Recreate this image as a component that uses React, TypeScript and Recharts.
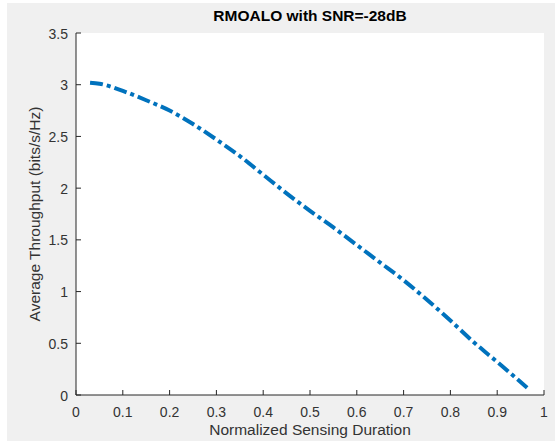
import React from 'react';
import { LineChart, Line, XAxis, YAxis, CartesianGrid } from 'recharts';

// normalized sensing duration vs average throughput
const durations = [0.03, 0.05, 0.1, 0.15, 0.2, 0.25, 0.3, 0.35, 0.4, 0.45, 0.5, 0.55, 0.6, 0.65, 0.7, 0.75, 0.8, 0.85, 0.9, 0.964];
const throughput = [3.02, 3.01, 2.94, 2.85, 2.75, 2.62, 2.47, 2.31, 2.13, 1.95, 1.78, 1.62, 1.45, 1.28, 1.11, 0.92, 0.72, 0.51, 0.32, 0.07];

const xTicks = [0, 0.1, 0.2, 0.3, 0.4, 0.5, 0.6, 0.7, 0.8, 0.9, 1];
const yTicks = [0, 0.5, 1, 1.5, 2, 2.5, 3, 3.5];

const data = durations.map((d, i) => ({ x: d, y: throughput[i] }));

const AXIS = '#262626';
const LABEL = '#333333';
const FONT = '"Liberation Sans", Arial, Helvetica, sans-serif';
const TICK_LEN = 5;
const X_GAP = 11;
const Y_GAP = 8;

function BottomTick(props: any) {
  const { x, y, payload } = props;
  const axisY = y - X_GAP;
  return (
    <g>
      <line x1={x} x2={x} y1={axisY} y2={axisY - TICK_LEN} stroke={AXIS} />
      <text x={x} y={y} dy="0.75em" textAnchor="middle" fill={LABEL} fontSize={14} fontFamily={FONT}>
        {payload.value}
      </text>
    </g>
  );
}

function LeftTick(props: any) {
  const { x, y, payload } = props;
  const axisX = x + Y_GAP;
  return (
    <g>
      <line x1={axisX} x2={axisX + TICK_LEN} y1={y} y2={y} stroke={AXIS} />
      <text x={x} y={y} dy="0.4em" textAnchor="end" fill={LABEL} fontSize={14} fontFamily={FONT}>
        {payload.value}
      </text>
    </g>
  );
}

function TopTick(props: any) {
  const { x, y } = props;
  return <line x1={x} x2={x} y1={y} y2={y + TICK_LEN} stroke={AXIS} />;
}

function RightTick(props: any) {
  const { x, y } = props;
  return <line x1={x} x2={x - TICK_LEN} y1={y} y2={y} stroke={AXIS} />;
}

export default function App() {
  return (
    <div style={{ position: 'absolute', left: 0, top: 0, width: 555, height: 441, background: '#fff' }}>
      <div style={{ position: 'absolute', left: 7, top: 3, width: 548, height: 438, background: '#f0f0f0' }}>
        <LineChart width={548} height={438} data={data} margin={{ top: 30, right: 11, bottom: 0, left: 0 }}>
          <CartesianGrid fill="#fff" stroke="none" horizontal={false} vertical={false} />
          <XAxis
            type="number"
            dataKey="x"
            domain={[0, 1]}
            ticks={xTicks}
            interval={0}
            height={46}
            tickSize={0}
            tickMargin={X_GAP}
            tickLine={false}
            stroke={AXIS}
            tick={<BottomTick />}
          />
          <XAxis
            xAxisId="top"
            orientation="top"
            type="number"
            dataKey="x"
            domain={[0, 1]}
            ticks={xTicks}
            interval={0}
            height={0}
            tickSize={0}
            tickMargin={0}
            tickLine={false}
            stroke={AXIS}
            tick={<TopTick />}
          />
          <YAxis
            type="number"
            domain={[0, 3.5]}
            ticks={yTicks}
            interval={0}
            width={69}
            tickSize={0}
            tickMargin={Y_GAP}
            tickLine={false}
            stroke={AXIS}
            tick={<LeftTick />}
          />
          <YAxis
            yAxisId="right"
            orientation="right"
            type="number"
            domain={[0, 3.5]}
            ticks={yTicks}
            interval={0}
            width={0}
            tickSize={0}
            tickMargin={0}
            tickLine={false}
            stroke={AXIS}
            tick={<RightTick />}
          />
          <Line
            type="monotone"
            dataKey="y"
            stroke="#0072BD"
            strokeWidth={4}
            strokeDasharray="13 4 4 4"
            dot={false}
            activeDot={false}
            isAnimationActive={false}
          />
        </LineChart>
      </div>
      <div
        style={{
          position: 'absolute', left: 76, width: 468, top: 7, textAlign: 'center',
          fontFamily: FONT, fontWeight: 'bold', fontSize: 15.5, color: '#000', lineHeight: '18px',
        }}
      >
        RMOALO with SNR=-28dB
      </div>
      <div
        style={{
          position: 'absolute', left: 76, width: 468, top: 421, textAlign: 'center',
          fontFamily: FONT, fontSize: 15.5, color: LABEL, lineHeight: '18px',
        }}
      >
        Normalized Sensing Duration
      </div>
      <div
        style={{
          position: 'absolute', left: 35 - 150, top: 214 - 9, width: 300, textAlign: 'center',
          fontFamily: FONT, fontSize: 15.5, color: LABEL, lineHeight: '18px', transform: 'rotate(-90deg)',
        }}
      >
        Average Throughput (bits/s/Hz)
      </div>
    </div>
  );
}
